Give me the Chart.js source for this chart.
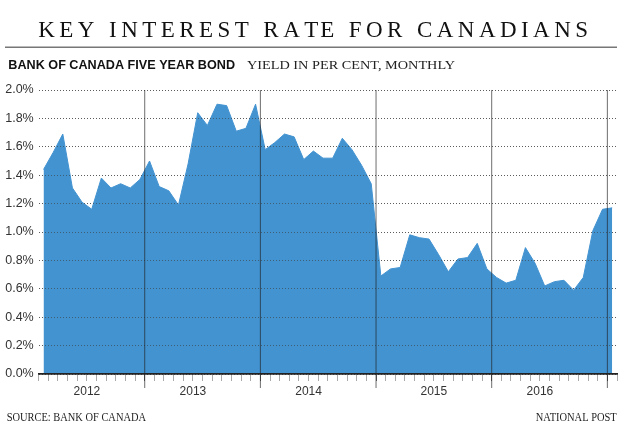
<!DOCTYPE html>
<html><head><meta charset="utf-8">
<script src="https://cdn.jsdelivr.net/npm/chart.js@4.4.1/dist/chart.umd.min.js"></script>
<style>html,body{margin:0;padding:0;background:#fff;}#wrap{position:relative;width:620px;height:433px;}</style>
</head><body><div id="wrap"><canvas id="c"></canvas></div>
<script>
const MON = ['Jan','Feb','Mar','Apr','May','Jun','Jul','Aug','Sep','Oct','Nov','Dec'];
const months = [
'Feb 2012','Mar 2012','Apr 2012','May 2012','Jun 2012','Jul 2012','Aug 2012','Sep 2012','Oct 2012','Nov 2012','Dec 2012',
'Jan 2013','Feb 2013','Mar 2013','Apr 2013','May 2013','Jun 2013','Jul 2013','Aug 2013','Sep 2013','Oct 2013','Nov 2013','Dec 2013',
'Jan 2014','Feb 2014','Mar 2014','Apr 2014','May 2014','Jun 2014','Jul 2014','Aug 2014','Sep 2014','Oct 2014','Nov 2014','Dec 2014',
'Jan 2015','Feb 2015','Mar 2015','Apr 2015','May 2015','Jun 2015','Jul 2015','Aug 2015','Sep 2015','Oct 2015','Nov 2015','Dec 2015',
'Jan 2016','Feb 2016','Mar 2016','Apr 2016','May 2016','Jun 2016','Jul 2016','Aug 2016','Sep 2016','Oct 2016','Nov 2016','Dec 2016',
'Jan 2017'];
const yields = [
1.44,1.56,1.69,1.31,1.21,1.16,1.38,1.31,1.34,1.31,1.37,
1.50,1.32,1.29,1.19,1.48,1.84,1.75,1.90,1.89,1.71,1.73,1.90,
1.58,1.63,1.69,1.67,1.51,1.57,1.52,1.52,1.66,1.58,1.47,1.34,
0.69,0.74,0.75,0.98,0.96,0.95,0.84,0.72,0.81,0.82,0.92,0.74,
0.68,0.64,0.66,0.89,0.78,0.62,0.65,0.66,0.59,0.68,1.01,1.16,
1.17];
const yearLabels = ['2012','2013','2014','2015','2016'];
const yearLabelAt = ['Jul 2012','Jun 2013','Jun 2014','Jul 2015','Jun 2016'];
const yearBreaks = ['Jan 2013','Jan 2014','Jan 2015','Jan 2016','Jan 2017'];
const titleText = 'KEY INTEREST RATE FOR CANADIANS';
const subtitleBold = 'BANK OF CANADA FIVE YEAR BOND';
const subtitleText = 'YIELD IN PER CENT, MONTHLY';
const sourceText = 'SOURCE: BANK OF CANADA';
const creditText = 'NATIONAL POST';

function monthValue(label){ const p = label.split(' '); return (+p[1]-2012)*12 + MON.indexOf(p[0]); }

const points = months.map((m,i) => ({x: monthValue(m) + 0.5, y: yields[i]}));
const xMin = monthValue(months[0]);
const xMax = monthValue(months[months.length-1]) + 1;

const FILL = '#4393d1';

function drawSpaced(ctx, text, font, x0, x1, base, color){
  ctx.save(); ctx.font = font; ctx.fillStyle = color; ctx.textBaseline = 'alphabetic'; ctx.textAlign = 'left';
  const w = ctx.measureText(text).width;
  const extra = (x1 - x0 - w) / (text.length - 1);
  for (let i = 0; i < text.length; i++) {
    const off = ctx.measureText(text.slice(0, i)).width;
    ctx.fillText(text[i], x0 + off + i*extra, base);
  }
  ctx.restore();
}
function drawScaled(ctx, text, font, x0, x1, base, color){
  ctx.save(); ctx.font = font; ctx.fillStyle = color; ctx.textBaseline = 'alphabetic'; ctx.textAlign = 'left';
  const w = ctx.measureText(text).width;
  ctx.translate(x0, base); ctx.scale((x1 - x0)/w, 1);
  ctx.fillText(text, 0, 0);
  ctx.restore();
}

const overlay = {
  id: 'overlay',
  afterDatasetsDraw(chart){
    const ctx = chart.ctx, a = chart.chartArea, xs = chart.scales.x, ys = chart.scales.y;
    if (typeof ys.drawGrid === 'function') ys.drawGrid(a);
    ctx.save();
    ctx.strokeStyle = 'rgba(30,30,30,0.65)'; ctx.lineWidth = 1;
    yearBreaks.forEach(b => {
      const px = xs.getPixelForValue(monthValue(b));
      ctx.beginPath(); ctx.moveTo(px, a.top); ctx.lineTo(px, a.bottom + 14); ctx.stroke();
    });
    ctx.restore();
    if (typeof xs.drawBorder === 'function') xs.drawBorder();
  },
  afterDraw(chart){
    const ctx = chart.ctx;
    drawSpaced(ctx, titleText, '23px "Liberation Serif", serif', 38.3, 588, 36.7, '#111');
    ctx.save(); ctx.strokeStyle = '#777'; ctx.lineWidth = 1.5;
    ctx.beginPath(); ctx.moveTo(5, 47.3); ctx.lineTo(617, 47.3); ctx.stroke(); ctx.restore();
    drawScaled(ctx, subtitleBold, 'bold 13.5px "Liberation Sans Narrow", "Liberation Sans", sans-serif', 8.3, 235, 69.3, '#111');
    drawScaled(ctx, subtitleText, '13px "Liberation Serif", serif', 247, 455, 69.3, '#222');
    drawScaled(ctx, sourceText, '12px "Liberation Serif", serif', 6.7, 146, 420.7, '#222');
    drawScaled(ctx, creditText, '12px "Liberation Serif", serif', 535.7, 616.7, 420.7, '#222');
  }
};

new Chart(document.getElementById('c'), {
  type: 'line',
  data: { datasets: [{
    data: points, fill: 'origin', backgroundColor: FILL, borderColor: FILL,
    borderWidth: 1, pointRadius: 0, tension: 0
  }]},
  options: {
    responsive: true, maintainAspectRatio: false, animation: false,
    layout: { padding: { left: 0, right: 3, top: 90, bottom: 0 } },
    plugins: { legend: { display: false }, tooltip: { enabled: false }, title: { display: false } },
    scales: {
      x: {
        type: 'linear', min: xMin, max: xMax,
        afterBuildTicks: s => { const t = []; for (let v = xMin; v <= xMax; v++) t.push({value: v}); s.ticks = t; },
        afterFit: s => { s.height = 59; },
        ticks: {
          autoSkip: false, maxRotation: 0, minRotation: 0, padding: 3,
          color: '#333', font: { family: '"Liberation Sans", Arial, sans-serif', size: 12 },
          callback: (value) => { const i = yearLabelAt.findIndex(l => monthValue(l) === value); return i >= 0 ? yearLabels[i] : ''; }
        },
        grid: {
          drawOnChartArea: false, drawTicks: true, tickLength: 7,
          tickColor: c => (c.tick && c.tick.value % 12 === 0) ? 'rgba(30,30,30,0.65)' : '#aaa'
        },
        border: { display: true, color: '#222', width: 1.5 }
      },
      y: {
        min: 0, max: 2.0,
        afterFit: s => { s.width = 38.7; },
        ticks: {
          stepSize: 0.2, padding: 5, color: '#333',
          font: { family: '"Liberation Sans", Arial, sans-serif', size: 12.5 },
          callback: v => v.toFixed(1) + '%'
        },
        grid: { drawTicks: false, color: 'rgba(60,60,60,0.6)', lineWidth: 1 },
        border: { display: false, dash: [1, 2] }
      }
    }
  },
  plugins: [overlay]
});
</script>
</body></html>
